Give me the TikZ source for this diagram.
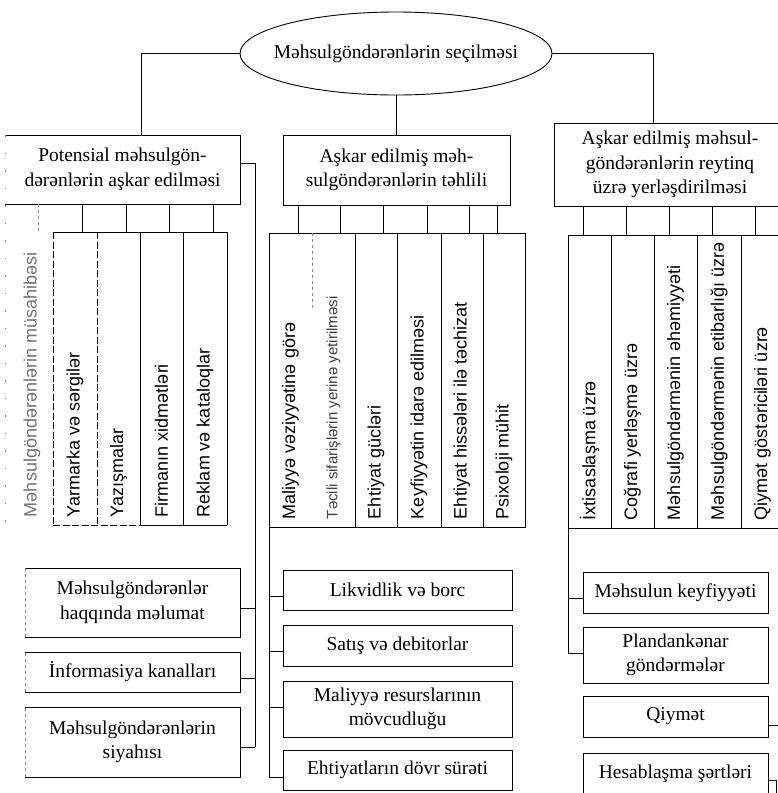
\documentclass[tikz,border=0pt]{standalone}
\usepackage{fontspec}
\setmainfont{Liberation Serif}
\newfontfamily\stripsans{Liberation Sans}
\usetikzlibrary{shapes.geometric}

\begin{document}
\begin{tikzpicture}[x=1pt, y=-1pt, line width=0.9pt,
  every node/.style={inner sep=0pt, outer sep=0pt},
  box/.style={align=center, font=\fontsize{19.5}{24.5}\selectfont},
  framebox/.style={box, draw},
  oval/.style={ellipse, draw, font=\fontsize{19.5}{24}\selectfont},
  strip/.style={minimum height=293pt},
  slabel/.style={rotate=90, anchor=west, font=\stripsans\fontsize{18}{20}\selectfont},
  faint/.style={draw=black!45, dash pattern=on 3pt off 3pt, line width=0.6pt},
  sparse/.style={draw=black!50, dash pattern=on 1.5pt off 16pt, line width=0.8pt},
  broken/.style={dash pattern=on 7pt off 2.5pt}
]
\useasboundingbox (0,0) rectangle (778,793);
\fill[white] (0,0) rectangle (778,793);
\clip (0,0) rectangle (778,793);

% ---------- top oval ----------
\node[oval, minimum width=312pt, minimum height=83pt] (sel) at (396,53.5)
  {\makebox[0pt][c]{Məhsulgöndərənlərin seçilməsi}};

% ---------- the three main boxes ----------
\node[box, minimum width=235pt, minimum height=69pt] (pot) at (122.5,169.5)
  {Potensial məhsulgön-\\dərənlərin aşkar edilməsi};
\draw (pot.north west) -- (pot.north east) -- (pot.south east) -- (pot.south west);

\node[framebox, minimum width=227pt, minimum height=70pt] (ana) at (396.5,170)
  {Aşkar edilmiş məh-\\sulgöndərənlərin təhlili};

\node[framebox, minimum width=232pt, minimum height=83pt] (rey) at (670,164.5)
  {Aşkar edilmiş məhsul-\\göndərənlərin reytinq\\üzrə yerləşdirilməsi};

% connectors from the oval
\coordinate (tl) at (141,0);
\coordinate (tr) at (653,0);
\draw (sel.west) -| (pot.north -| tl);
\draw (sel.east) -| (rey.north -| tr);
\draw (sel.south) -- (sel.south |- ana.north);

% ---------- left group of strips ----------
\foreach \n/\cx/\w in {l1/29/48, l2/75/44, l3/118.5/43, l4/161.5/43, l5/205/44}
  \node[strip, minimum width=\w pt] (\n) at (\cx,378.5) {};

\draw (l2.north west) -- (l5.north east);
\draw[broken] (l2.north west) -- (l2.south west);
\draw[broken] (l3.north west) -- (l3.south west);
\draw (l4.north west) -- (l4.south west);
\draw (l5.north west) -- (l5.south west);
\draw (l5.north east) -- (l5.south east);
\draw[broken] (l2.south west) -- (l4.south west);
\draw (l4.south west) -- (l5.south east);
\draw[sparse] (pot.north west) -- (l1.south west);

\coordinate (k1) at (38,0);
\draw[faint] (pot.south -| k1) -- (l1.north -| k1);
\foreach \n/\cx in {l2/82, l3/126, l4/169, l5/213} {
  \coordinate (k) at (\cx,0);
  \draw (pot.south -| k) -- (\n.north -| k);
}

\node[slabel, text=black!55] at ([xshift=3pt, yshift=8pt]l1.south) {Məhsulgöndərənlərin müsahibəsi};
\foreach \n/\t in {l2/Yarmarka və sərgilər, l3/Yazışmalar, l4/Firmanın xidmətləri, l5/Reklam və kataloqlar}
  \node[slabel] at ([yshift=8pt]\n.south) {\t};

% ---------- middle group of strips ----------
\foreach \n/\cx/\w in {m1/290.5/43, m2/333.5/43, m3/376/42, m4/419/44, m5/462/42, m6/504/42}
  \node[strip, minimum width=\w pt, minimum height=294pt] (\n) at (\cx,380) {};

\draw (m1.north west) rectangle (m6.south east);
\draw[faint] (m2.north west) -- ++(0,75);
\foreach \n in {m3, m4, m5, m6}
  \draw (\n.north west) -- (\n.south west);
\foreach \n/\cx in {m1/298, m2/340, m3/383, m4/427, m5/469, m6/497} {
  \coordinate (k) at (\cx,0);
  \draw (ana.south -| k) -- (\n.north -| k);
}

\node[slabel] at ([yshift=8pt]m1.south) {Maliyyə vəziyyətinə görə};
\node[slabel, text=black!75, font=\stripsans\fontsize{15}{17}\selectfont] at ([yshift=8pt]m2.south)
  {Təcili sifarişlərin yerinə yetirilməsi};
\foreach \n/\t in {m3/Ehtiyat gücləri, m4/Keyfiyyətin idarə edilməsi, m5/Ehtiyat hissələri ilə təchizat, m6/Psixoloji mühit}
  \node[slabel] at ([yshift=8pt]\n.south) {\t};

% ---------- right group of strips ----------
\foreach \n/\cx/\w in {r1/589.5/43, r2/632.5/43, r3/675.5/43, r4/719/44, r5/762.5/43}
  \node[strip, minimum width=\w pt] (\n) at (\cx,381.5) {};

\draw (r1.north west) -- (r5.north east);
\draw (r1.south west) -- (r5.south east);
\foreach \n in {r1, r2, r3, r4, r5}
  \draw (\n.north west) -- (\n.south west);
\foreach \n/\cx in {r1/583, r2/626, r3/669, r4/712, r5/755} {
  \coordinate (k) at (\cx,0);
  \draw (rey.south -| k) -- (\n.north -| k);
}

\foreach \n/\t in {r1/İxtisaslaşma üzrə, r2/Coğrafi yerləşmə üzrə, r3/Məhsulgöndərmənin əhəmiyyəti,
                   r4/Məhsulgöndərmənin etibarlığı üzrə, r5/Qiymət göstəriciləri üzrə}
  \node[slabel] at ([yshift=8pt]\n.south) {\t};

% ---------- lower left boxes ----------
\node[box, minimum width=215pt, minimum height=69pt] (lb1) at (132.5,602.5)
  {Məhsulgöndərənlər\\haqqında məlumat};
\node[box, minimum width=215pt, minimum height=40pt] (lb2) at (132.5,672)
  {İnformasiya kanalları};
\node[box, minimum width=215pt, minimum height=70pt] (lb3) at (132.5,742)
  {Məhsulgöndərənlərin\\siyahısı};
\foreach \n in {lb1, lb2, lb3} {
  \draw (\n.north west) -- (\n.north east) -- (\n.south east) -- (\n.south west);
  \draw[faint] (\n.south west) -- (\n.north west);
}

\coordinate (lj0) at (255,163);
\coordinate (lj1) at (255,608);
\coordinate (lj2) at (255,678);
\coordinate (lj3) at (255,747);
\draw (lj0 -| pot.east) -- (lj0) -- (lj3);
\draw (lj1) -- (lj1 -| lb1.east);
\draw (lj2) -- (lj2 -| lb2.east);
\draw (lj3) -- (lj3 -| lb3.east);

% ---------- lower middle boxes ----------
\node[framebox, minimum width=229pt, minimum height=40pt] (mb1) at (397.5,590) {Likvidlik və borc};
\node[framebox, minimum width=229pt, minimum height=41pt] (mb2) at (397.5,645.5) {Satış və debitorlar};
\node[framebox, minimum width=229pt, minimum height=56pt] (mb3) at (397.5,709) {Maliyyə resurslarının\\mövcudluğu};
\node[framebox, minimum width=229pt, minimum height=40pt] (mb4) at (397.5,770) {Ehtiyatların dövr sürəti};

\coordinate (mj1) at (269,596);
\coordinate (mj2) at (269,651);
\coordinate (mj3) at (269,707);
\coordinate (mj4) at (269,777);
\draw (m1.south west) -- (mj4);
\draw (mj1) -- (mj1 -| mb1.west);
\draw (mj2) -- (mj2 -| mb2.west);
\draw (mj3) -- (mj3 -| mb3.west);
\draw (mj4) -- (mj4 -| mb4.west);

% ---------- lower right boxes ----------
\node[framebox, minimum width=185pt, minimum height=41pt] (rb1) at (675.5,592.5) {Məhsulun keyfiyyəti};
\node[framebox, minimum width=185pt, minimum height=56pt] (rb2) at (675.5,655) {Plandankənar\\göndərmələr};
\node[framebox, minimum width=185pt, minimum height=41pt] (rb3) at (675.5,716.5) {Qiymət};
\node[framebox, minimum width=185pt, minimum height=42pt] (rb4) at (675.5,774) {Hesablaşma şərtləri};

\coordinate (rj1) at (568,598);
\coordinate (rj2) at (568,653);
\draw (r1.south west) -- (rj2);
\draw (rj1) -- (rj1 -| rb1.west);
\draw (rj2) -- (rj2 -| rb2.west);

\coordinate (rs3) at (778,725);
\draw (rs3 -| rb3.east) -- (rs3);
\coordinate (rs4) at (776,780);
\coordinate (rs4b) at (776,795);
\draw (rs4 -| rb4.east) -- (rs4) -- (rs4b);
\end{tikzpicture}
\end{document}
